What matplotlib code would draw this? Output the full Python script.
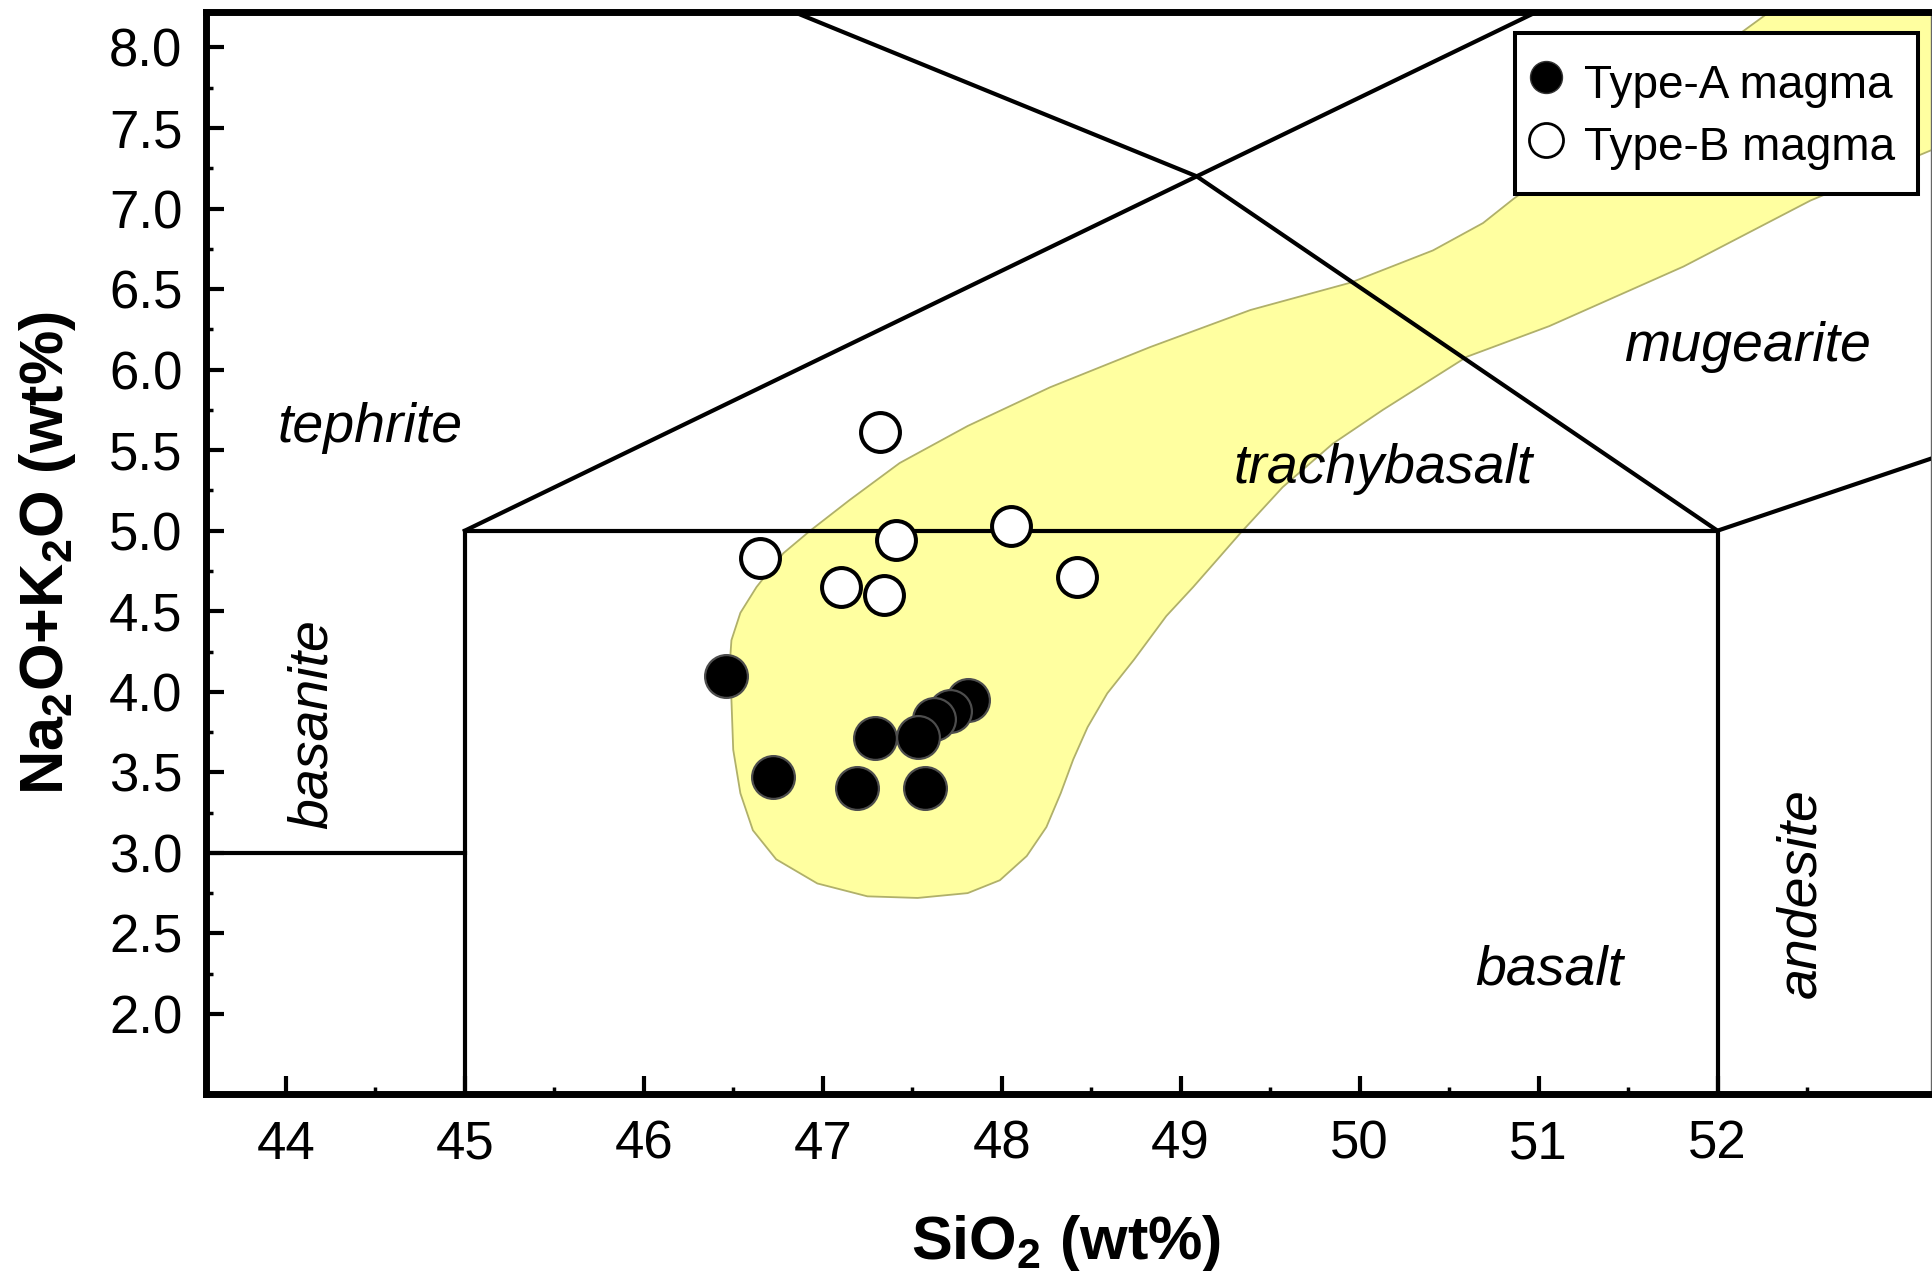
import matplotlib
matplotlib.use('Agg')
import matplotlib.pyplot as plt
from matplotlib.lines import Line2D
from matplotlib.ticker import FixedLocator, FormatStrFormatter
from matplotlib.font_manager import FontProperties

plt.rcParams['font.family'] = ['Liberation Sans', 'DejaVu Sans']
plt.rcParams['mathtext.default'] = 'regular'

# ---------------- data ----------------
type_a_sio2 = [46.46, 46.72, 47.19, 47.29, 47.57, 47.81, 47.71, 47.62, 47.53]
type_a_alk = [4.10, 3.47, 3.40, 3.71, 3.40, 3.95, 3.88, 3.83, 3.72]

type_b_sio2 = [47.32, 46.65, 47.10, 47.34, 47.41, 48.05, 48.42]
type_b_alk = [5.61, 4.83, 4.65, 4.60, 4.94, 5.03, 4.71]

field_sio2 = [53.50, 52.52, 52.29, 50.86, 50.69, 50.41, 49.95, 49.39, 48.83, 48.27,
              47.81, 47.43, 47.15, 46.93, 46.78, 46.63, 46.54, 46.49, 46.48, 46.49,
              46.50, 46.54, 46.61, 46.74, 46.97, 47.25, 47.53, 47.81, 47.99, 48.14,
              48.25, 48.33, 48.40, 48.48, 48.59, 48.74, 48.92, 49.07, 49.22, 49.33,
              49.57, 49.85, 50.13, 50.60, 51.06, 51.81, 52.52, 53.19, 53.50]
field_alk = [8.40, 8.40, 8.22, 7.06, 6.91, 6.74, 6.54, 6.37, 6.14, 5.89,
             5.65, 5.42, 5.19, 5.00, 4.86, 4.65, 4.49, 4.32, 4.16, 3.95,
             3.64, 3.37, 3.14, 2.96, 2.81, 2.73, 2.72, 2.75, 2.83, 2.98,
             3.16, 3.37, 3.58, 3.78, 3.99, 4.20, 4.47, 4.65, 4.84, 4.98,
             5.27, 5.54, 5.75, 6.08, 6.27, 6.64, 7.05, 7.36, 7.50]

basalt_x = [45, 45, 52, 52]
basalt_y = [0, 5, 5, 0]
basanite_x = [41, 45]
basanite_y = [3, 3]
trachy_up_x = [45, 49.09, 53.5]
trachy_up_y = [5, 7.20, 9.57]
trachy_down_x = [46.0, 46.84, 49.09, 52]
trachy_down_y = [8.60, 8.22, 7.20, 5]
mugearite_x = [52, 54]
mugearite_y = [5, 5.75]

x_ticks = [44, 45, 46, 47, 48, 49, 50, 51, 52]
x_minor = [44.5, 45.5, 46.5, 47.5, 48.5, 49.5, 50.5, 51.5, 52.5]
y_ticks = [2.0, 2.5, 3.0, 3.5, 4.0, 4.5, 5.0, 5.5, 6.0, 6.5, 7.0, 7.5, 8.0]
y_minor = [2.25, 2.75, 3.25, 3.75, 4.25, 4.75, 5.25, 5.75, 6.25, 6.75, 7.25, 7.75]

legend_labels = ['Type-A magma', 'Type-B magma']

# ---------------- figure ----------------
fig = plt.figure(figsize=(19.32, 12.71), dpi=100)
ax = fig.add_axes([206 / 1932, 1 - 1093.5 / 1271, 1725 / 1932, 1081.8 / 1271])
ax.set_xlim(43.554, 53.193)
ax.set_ylim(1.506, 8.222)

ax.fill(field_sio2, field_alk, facecolor='#ffffa0', edgecolor='#b0b06a', lw=1.3, zorder=1)

line_kw = dict(color='black', lw=3.0, zorder=3, solid_joinstyle='miter')
ax.plot(basalt_x, basalt_y, **line_kw)
ax.plot(basanite_x, basanite_y, **line_kw)
ax.plot(trachy_up_x, trachy_up_y, **line_kw)
ax.plot(trachy_down_x, trachy_down_y, **line_kw)
ax.plot(mugearite_x, mugearite_y, **line_kw)

ax.scatter(type_a_sio2, type_a_alk, s=950, c='black', edgecolors='#4d4d4d',
           linewidths=1.6, zorder=5)
ax.scatter(type_b_sio2, type_b_alk, s=784, facecolors='white', edgecolors='black',
           linewidths=2.9, zorder=5)

lab_kw = dict(style='italic', fontsize=40, ha='center', va='center', zorder=4)
ax.text(44.47, 5.64, 'tephrite', **lab_kw)
ax.text(50.13, 5.38, 'trachybasalt', **lab_kw)
ax.text(52.17, 6.14, 'mugearite', **lab_kw)
ax.text(51.06, 2.27, 'basalt', **lab_kw)
ax.text(44.15, 3.80, 'basanite', rotation=90, **lab_kw)
ax.text(52.47, 2.75, 'andesite', rotation=90, **lab_kw)

# axes styling
for side in ['left', 'bottom', 'top']:
    ax.spines[side].set_linewidth(5)
ax.spines['right'].set_linewidth(1.0)
ax.spines['right'].set_color('#666666')

ax.xaxis.set_major_locator(FixedLocator(x_ticks))
ax.xaxis.set_minor_locator(FixedLocator(x_minor))
ax.yaxis.set_major_locator(FixedLocator(y_ticks))
ax.yaxis.set_minor_locator(FixedLocator(y_minor))
ax.yaxis.set_major_formatter(FormatStrFormatter('%.1f'))
ax.xaxis.set_major_formatter(FormatStrFormatter('%d'))

ax.tick_params(which='both', direction='in', top=False, right=False)
ax.tick_params(which='major', length=13, width=3, labelsize=38)
ax.tick_params(which='minor', length=5, width=2.5)
ax.tick_params(axis='y', which='major', pad=17)
ax.tick_params(axis='x', which='major', pad=19)

ax.set_xlabel('SiO$_2$ (wt%)', fontsize=44, fontweight='bold', va='baseline')
ax.xaxis.set_label_coords(0.4988, -0.153)
ax.set_ylabel('Na$_2$O+K$_2$O (wt%)', fontsize=44, fontweight='bold', va='center')
ax.yaxis.set_label_coords(-0.0916, 0.4992)

h_a = Line2D([], [], marker='o', ls='none', markersize=23, markerfacecolor='black',
             markeredgecolor='#333333', markeredgewidth=1)
h_b = Line2D([], [], marker='o', ls='none', markersize=24.5, markerfacecolor='white',
             markeredgecolor='black', markeredgewidth=2)
leg = ax.legend([h_a, h_b], legend_labels, loc='upper right',
                bbox_to_anchor=(0.9926, 0.9800), borderaxespad=0, fancybox=False,
                framealpha=1, edgecolor='black',
                prop=FontProperties(family=['Liberation Sans Narrow', 'Liberation Sans'], size=33),
                handlelength=0.36, handleheight=1.38, handletextpad=0.66,
                borderpad=0.5, labelspacing=0.225)
leg.get_frame().set_linewidth(2.9)
leg.set_zorder(10)

fig.savefig('out.png', dpi=100)
